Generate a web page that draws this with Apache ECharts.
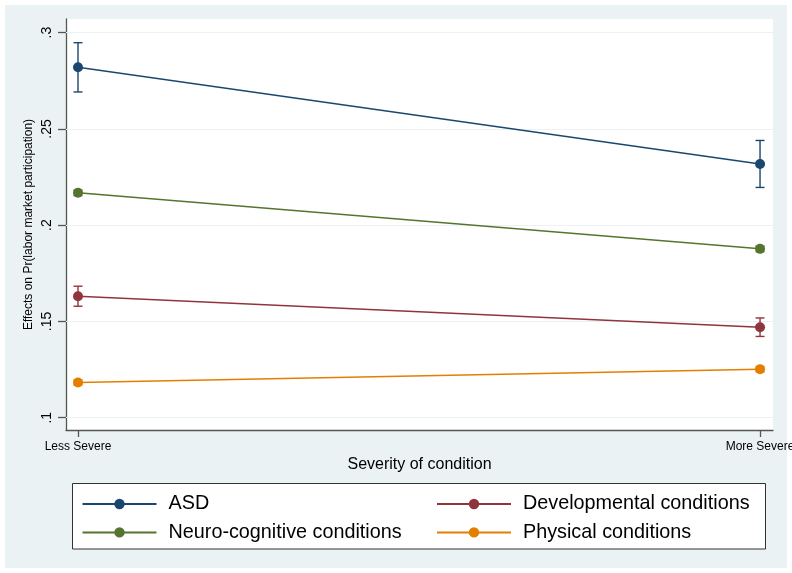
<!DOCTYPE html>
<html>
<head>
<meta charset="utf-8">
<script src="https://cdn.jsdelivr.net/npm/echarts@6/dist/echarts.min.js"></script>
<style>
  html, body { margin: 0; padding: 0; background: #ffffff; }
  #chart { width: 792px; height: 573px; }
</style>
</head>
<body>
<div id="chart"></div>
<script>
// Categories along the x axis
const categories = ['Less Severe', 'More Severe'];

// Point estimates and confidence bounds for each group
const asd = [0.2820, 0.2318];
const asdLo = [0.2692, 0.2196];
const asdHi = [0.2948, 0.2440];

const developmental = [0.1631, 0.1470];
const developmentalLo = [0.1579, 0.1422];
const developmentalHi = [0.1683, 0.1518];

const neuro = [0.2168, 0.1877];
const neuroLo = [0.2154, 0.1863];
const neuroHi = [0.2182, 0.1891];

const physical = [0.1183, 0.1252];
const physicalLo = [0.1169, 0.1238];
const physicalHi = [0.1197, 0.1266];

// Y axis ticks and their labels
const yTicks = [0.1, 0.15, 0.2, 0.25, 0.3];
const yTickLabels = ['.1', '.15', '.2', '.25', '.3'];

const colors = {
  asd: '#1a476f',
  dev: '#90353b',
  neuro: '#55752f',
  phys: '#e37e00'
};

const FONT = '"Liberation Sans", Arial, Helvetica, sans-serif';

function points(vals) {
  return vals.map((v, i) => [i, v]);
}
function bars(lo, hi) {
  return lo.map((v, i) => [i, v, hi[i]]);
}

function renderErrorBar(params, api) {
  const x = api.value(0);
  const pLo = api.coord([x, api.value(1)]);
  const pHi = api.coord([x, api.value(2)]);
  const hw = 4.5;
  const style = { stroke: api.visual('color'), lineWidth: 1.4, fill: null };
  return {
    type: 'group',
    children: [
      { type: 'line', shape: { x1: pHi[0], y1: pHi[1], x2: pLo[0], y2: pLo[1] }, style },
      { type: 'line', shape: { x1: pHi[0] - hw, y1: pHi[1], x2: pHi[0] + hw, y2: pHi[1] }, style },
      { type: 'line', shape: { x1: pLo[0] - hw, y1: pLo[1], x2: pLo[0] + hw, y2: pLo[1] }, style }
    ]
  };
}

function lineSeries(name, vals, color, withGrid) {
  const s = {
    name: name,
    type: 'line',
    data: points(vals),
    symbol: 'circle',
    symbolSize: 10,
    z: 4,
    itemStyle: { color: color },
    lineStyle: { color: color, width: 1.5 },
    emphasis: { disabled: true },
    animation: false
  };
  if (withGrid) {
    s.markLine = {
      silent: true,
      symbol: 'none',
      label: { show: false },
      z: 1,
      lineStyle: { color: '#eaf2f3', width: 1.2, type: 'solid' },
      data: yTicks.map(v => ({ yAxis: v }))
    };
  }
  return s;
}

function errorSeries(name, lo, hi, color) {
  return {
    name: name,
    type: 'custom',
    renderItem: renderErrorBar,
    data: bars(lo, hi),
    itemStyle: { color: color },
    encode: { x: 0, y: [1, 2] },
    z: 3,
    silent: true,
    animation: false
  };
}

const chart = echarts.init(document.getElementById('chart'), null, { renderer: 'canvas' });

const axisLineStyle = { color: '#555555', width: 1.3 };

chart.setOption({
  backgroundColor: '#ffffff',
  animation: false,
  graphic: [
    {
      type: 'rect',
      z: -100,
      shape: { x: 5, y: 5, width: 782, height: 563 },
      style: { fill: '#eaf2f3' }
    },
    {
      type: 'rect',
      z: -50,
      shape: { x: 72.5, y: 483.5, width: 693, height: 65.5 },
      style: { fill: '#ffffff', stroke: '#333333', lineWidth: 1 }
    }
  ],
  grid: {
    left: 66,
    right: 19,
    top: 19,
    bottom: 143,
    show: true,
    backgroundColor: '#ffffff',
    borderWidth: 0,
    containLabel: false,
    outerBoundsMode: 'none'
  },
  xAxis: {
    type: 'value',
    min: -0.0176,
    max: 1.019,
    name: 'Severity of condition',
    nameLocation: 'middle',
    nameGap: 27,
    nameMoveOverlap: false,
    nameTextStyle: { fontFamily: FONT, fontSize: 16, color: '#000' },
    axisLine: { show: true, onZero: false, lineStyle: axisLineStyle },
    axisTick: { show: true, length: 7, customValues: [0, 1], lineStyle: axisLineStyle },
    axisLabel: {
      customValues: [0, 1],
      formatter: v => categories[Math.round(v)],
      fontFamily: FONT,
      fontSize: 12,
      color: '#000',
      margin: 11
    },
    splitLine: { show: false }
  },
  yAxis: {
    type: 'value',
    min: 0.0936,
    max: 0.3071,
    name: 'Effects on Pr(labor market participation)',
    nameLocation: 'middle',
    nameGap: 31,
    nameMoveOverlap: false,
    nameTextStyle: { fontFamily: FONT, fontSize: 12, color: '#000' },
    axisLine: { show: true, onZero: false, lineStyle: axisLineStyle },
    axisTick: { show: true, length: 8, customValues: yTicks, lineStyle: axisLineStyle },
    axisLabel: {
      customValues: yTicks,
      formatter: v => {
        const i = yTicks.findIndex(t => Math.abs(t - v) < 1e-9);
        return i >= 0 ? yTickLabels[i] : '';
      },
      rotate: 90,
      fontFamily: FONT,
      fontSize: 14,
      color: '#000',
      margin: 12
    },
    splitLine: { show: false }
  },
  legend: [
    {
      orient: 'vertical',
      left: 81.5,
      top: 493,
      padding: 0,
      itemWidth: 74,
      itemHeight: 13,
      itemGap: 6.4,
      selectedMode: false,
      data: ['ASD', 'Neuro-cognitive conditions'],
      textStyle: { fontFamily: FONT, fontSize: 19.8, color: '#000', lineHeight: 22, padding: [0, 0, 0, 7] }
    },
    {
      orient: 'vertical',
      left: 436,
      top: 493,
      padding: 0,
      itemWidth: 74,
      itemHeight: 13,
      itemGap: 6.4,
      selectedMode: false,
      data: ['Developmental conditions', 'Physical conditions'],
      textStyle: { fontFamily: FONT, fontSize: 19.8, color: '#000', lineHeight: 22, padding: [0, 0, 0, 7] }
    }
  ],
  series: [
    errorSeries('ASD interval', asdLo, asdHi, colors.asd),
    errorSeries('Developmental interval', developmentalLo, developmentalHi, colors.dev),
    errorSeries('Neuro-cognitive interval', neuroLo, neuroHi, colors.neuro),
    errorSeries('Physical interval', physicalLo, physicalHi, colors.phys),
    lineSeries('ASD', asd, colors.asd, true),
    lineSeries('Developmental conditions', developmental, colors.dev, false),
    lineSeries('Neuro-cognitive conditions', neuro, colors.neuro, false),
    lineSeries('Physical conditions', physical, colors.phys, false)
  ]
});
</script>
</body>
</html>
